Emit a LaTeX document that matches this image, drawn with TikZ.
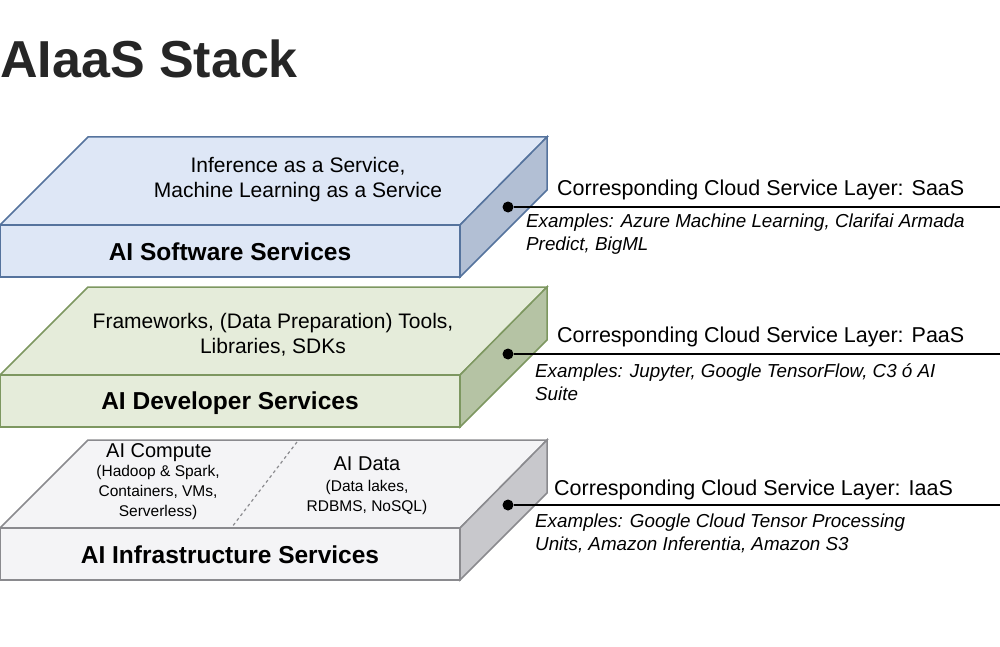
\documentclass[tikz,border=0pt]{standalone}
\usepackage{fontspec}
\setmainfont{Liberation Sans}
\begin{document}
\begin{tikzpicture}[x=1pt,y=-1pt,
  txt/.style={font=\fontsize{21}{25}\selectfont,align=center},
  lab/.style={font=\fontsize{24.5}{28}\selectfont\bfseries},
  cor/.style={font=\fontsize{21.5}{24}\selectfont,anchor=base west},
  ex/.style={font=\fontsize{18.8}{23}\selectfont\itshape,align=left,anchor=north west},
  dot/.style={circle,fill=black,inner sep=0pt,minimum size=11pt}]
\useasboundingbox (0,0) rectangle (1000,647);
\definecolor{bt}{HTML}{DEE7F6}\definecolor{br}{HTML}{B2BFD4}\definecolor{be}{HTML}{55739D}
\definecolor{gt}{HTML}{E5ECDA}\definecolor{gr}{HTML}{B5C3A4}\definecolor{ge}{HTML}{7D9760}
\definecolor{yt}{HTML}{F4F4F6}\definecolor{yr}{HTML}{C8C8CC}\definecolor{ye}{HTML}{8A8A8E}
\newcommand{\slab}[4]{% y of front top, top col, right col, edge col
  \draw[#4,line width=1.5pt,fill=#2] (0,#1) -- (88,#1-88) -- (547,#1-88) -- (460,#1) -- cycle;
  \draw[#4,line width=1.5pt,fill=#2] (0,#1) rectangle (460,#1+52);
  \draw[#4,line width=1.5pt,fill=#3] (460,#1) -- (547,#1-88) -- (547,#1-35) -- (460,#1+52) -- cycle;}
\node[anchor=base west,inner sep=0pt,font=\fontsize{52}{56}\selectfont\bfseries,text=black!85] (title) at (0,78) {AIaaS Stack};
\slab{225}{bt}{br}{be}
\slab{375}{gt}{gr}{ge}
\slab{528}{yt}{yr}{ye}
\draw[ye,dashed,line width=1.2pt] (297,442) -- (232,527);
\node[txt] (t1) at (298,180) {Inference as a Service,\\Machine Learning as a Service};
\node[lab] (l1) at (230,252) {AI Software Services};
\node[txt] (t2) at (273,335) {Frameworks, (Data Preparation) Tools,\\Libraries, SDKs};
\node[lab] (l2) at (230,403) {AI Developer Services};
\node[font=\fontsize{20}{24}\selectfont] (c1) at (159,453) {AI Compute};
\node[font=\fontsize{15.5}{20}\selectfont,align=center] (c2) at (158,492) {(Hadoop \& Spark,\\Containers, VMs,\\Serverless)};
\node[font=\fontsize{20}{24}\selectfont] (d1) at (367,464) {AI Data};
\node[font=\fontsize{15.5}{20}\selectfont,align=center] (d2) at (367,497) {(Data lakes,\\RDBMS, NoSQL)};
\node[lab] (l3) at (230,555) {AI Infrastructure Services};
% connectors
\node[dot] (p1) at (508,207) {}; \coordinate (e1) at (1000,207);
\draw[line width=1.4pt] (p1) -- (e1);
\node[dot] (p2) at (508,354) {}; \coordinate (e2) at (1000,354);
\draw[line width=1.4pt] (p2) -- (e2);
\node[dot] (p3) at (508,505) {}; \coordinate (e3) at (1000,505);
\draw[line width=1.4pt] (p3) -- (e3);
\node[cor,inner sep=0pt] (s1) at (557,195) {Corresponding Cloud Service Layer: SaaS};
\node[ex,inner sep=0pt] (x1) at (526,214) {Examples: Azure Machine Learning, Clarifai Armada\\Predict, BigML};
\node[cor,inner sep=0pt] (s2) at (557,342) {Corresponding Cloud Service Layer: PaaS};
\node[ex,inner sep=0pt] (x2) at (535,363) {Examples: Jupyter, Google TensorFlow, C3 ó AI\\Suite};
\node[cor,inner sep=0pt] (s3) at (554,495) {Corresponding Cloud Service Layer: IaaS};
\node[ex,inner sep=0pt] (x3) at (535,514) {Examples: Google Cloud Tensor Processing\\Units, Amazon Inferentia, Amazon S3};
\end{tikzpicture}
\end{document}
